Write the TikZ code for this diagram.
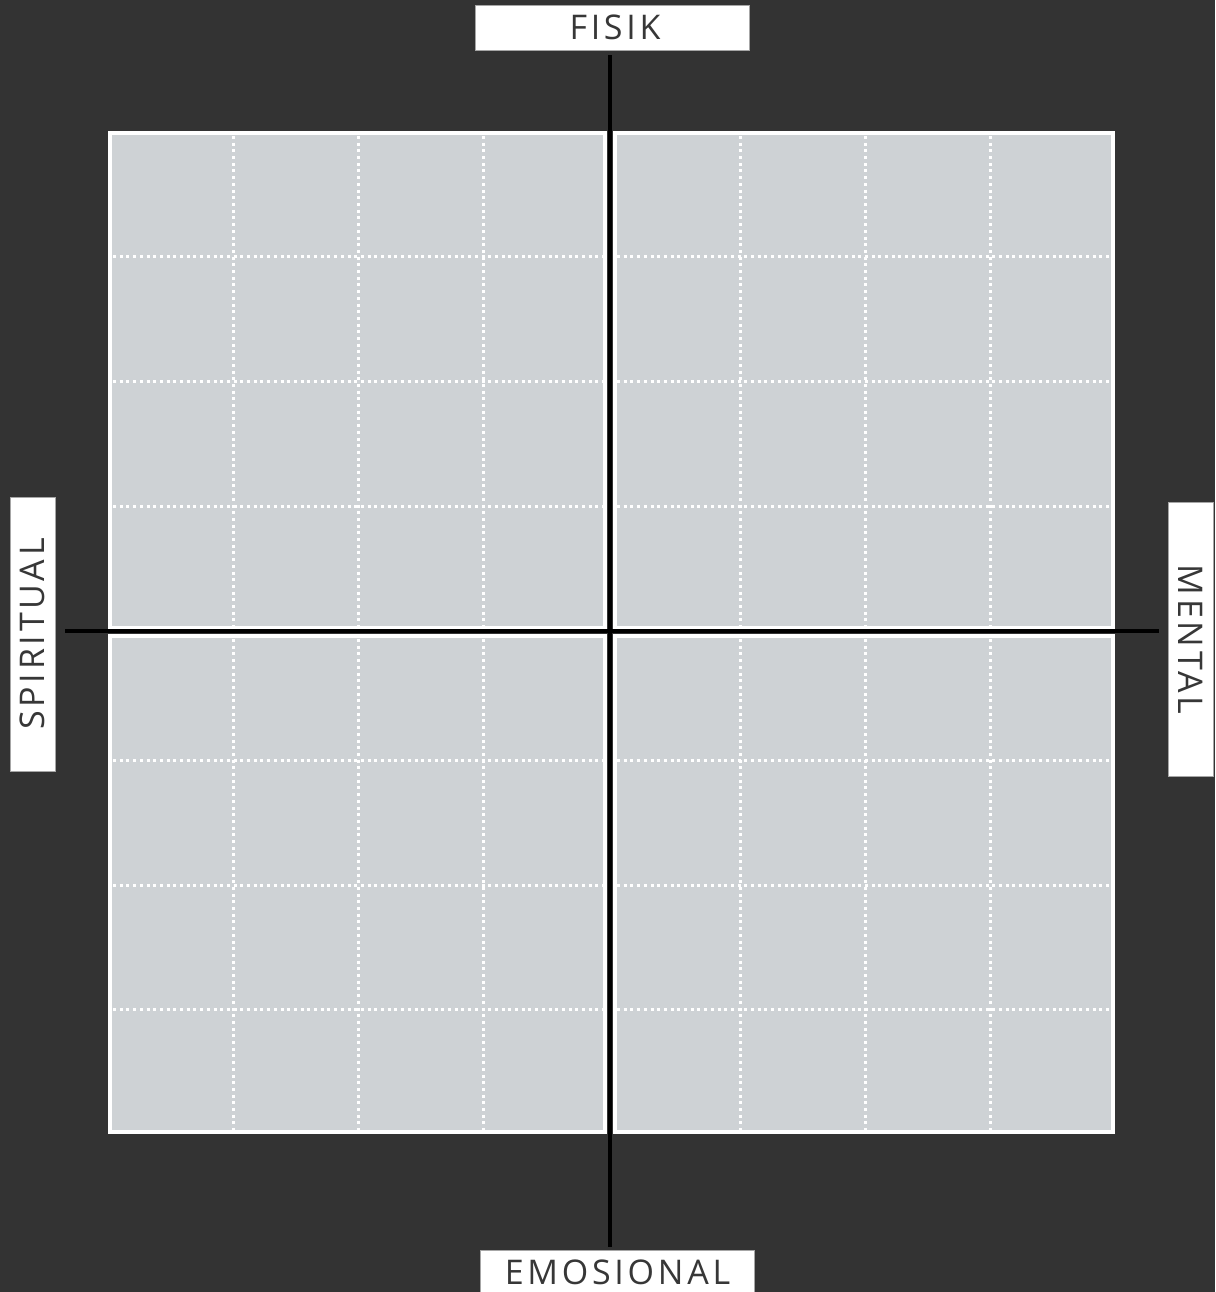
\documentclass[tikz,border=0pt]{standalone}
\usepackage{fontspec}
\setmainfont{Open Sans}[LetterSpace=11]
\usetikzlibrary{positioning}
\definecolor{slate}{RGB}{51,51,51}
\definecolor{pane}{RGB}{206,210,213}
\definecolor{ink}{RGB}{55,55,55}

\begin{document}
\begin{tikzpicture}[
      x=1pt, y=-1pt,
      quad/.style={fill=pane, draw=white, line width=4pt},
      dots/.style={draw=white, line width=3pt, dash pattern=on 3pt off 3.7pt},
      tag/.style={draw=black!35, fill=white, line width=0.8pt,
                  minimum width=274pt, minimum height=45pt, inner sep=0pt,
                  text=ink, font=\fontsize{34}{40}\selectfont},
      axis/.style={draw=black, line width=3.2pt}
    ]
    \useasboundingbox (0,0) rectangle (1215,1292);
    \clip (0,0) rectangle (1215,1292);
    \fill[slate] (0,0) rectangle (1215,1292);
    % four panes
    \foreach \ya/\yb in {133/628, 636/1132}
      \foreach \xa/\xb in {110/605, 615/1113}
        \draw[quad] (\xa,\ya) rectangle (\xb,\yb);
    % dotted grid
    \foreach \x in {233,358,483,740,865,990} {
      \draw[dots] (\x,136) -- (\x,626);
      \draw[dots] (\x,639) -- (\x,1130);
    }
    \foreach \y in {256,381,506,760,885,1009} {
      \draw[dots] (113,\y) -- (603,\y);
      \draw[dots] (617,\y) -- (1111,\y);
    }
    % labels
    \node[tag] (fisik) at (612,27.5) {\hspace{6pt}FISIK};
    \node[tag] (emosional) at (617.5,1272.5) {EMOSIONAL};
    \node[tag, rotate=90] (spiritual) at (32.5,634) {SPIRITUAL};
    \node[tag, rotate=-90] (mental) at (1190.5,639.5) {MENTAL};
    % axes
    \coordinate (o) at (610,631);
    \draw[axis] ([yshift=-5pt]fisik.south -| o) -- ([yshift=3pt]emosional.north -| o);
    \draw[axis] ([xshift=10pt]spiritual.south |- o) -- ([xshift=-9pt]mental.south |- o);
  \end{tikzpicture}
\end{document}
